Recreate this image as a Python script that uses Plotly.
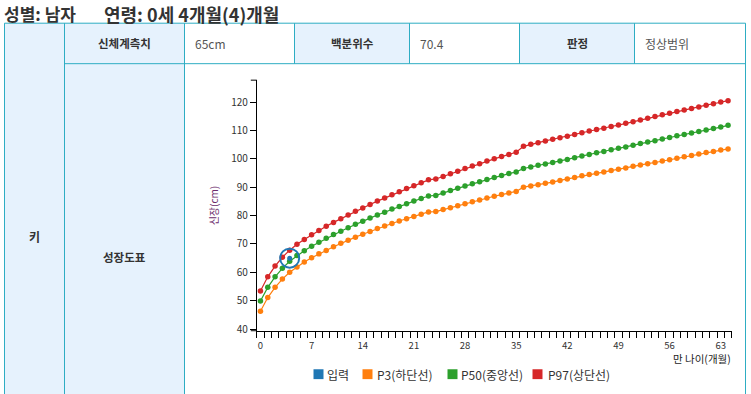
import plotly.graph_objects as go

W, H = 751, 394

# ---------------- data ----------------
months = list(range(65))
p3 = [46.3, 51.1, 54.7, 57.6, 60.0, 61.9, 63.6, 65.1, 66.5, 67.7, 69.0, 70.2, 71.3, 72.4, 73.4, 74.4,
      75.4, 76.3, 77.2, 78.1, 78.9, 79.7, 80.5, 81.3, 81.4, 82.1, 82.8, 83.5, 84.2, 84.9, 85.5, 86.2,
      86.8, 87.4, 88.0, 88.5,
      90.0, 90.4, 90.9, 91.4, 91.8, 92.4, 92.9, 93.4, 94.0, 94.5, 94.9, 95.4, 95.9, 96.3, 96.8, 97.4,
      97.8, 98.3, 98.7, 99.2, 99.7, 100.2, 100.7, 101.2, 101.7, 102.2, 102.6, 103.1, 103.5]
p50 = [49.9, 54.7, 58.4, 61.4, 63.9, 65.9, 67.6, 69.2, 70.6, 72.0, 73.3, 74.5, 75.7, 76.9, 78.0, 79.1,
       80.2, 81.2, 82.3, 83.2, 84.2, 85.1, 86.0, 86.9, 87.1, 88.0, 88.8, 89.6, 90.4, 91.2, 91.9, 92.7,
       93.4, 94.1, 94.8, 95.4,
       96.6, 97.1, 97.7, 98.2, 98.7, 99.2, 99.8, 100.4, 101.0, 101.5, 102.1, 102.6, 103.2, 103.7, 104.2,
       104.8, 105.4, 105.9, 106.4, 107.0, 107.5, 108.1, 108.6, 109.1, 109.6, 110.2, 110.7, 111.2, 111.8]
p97 = [53.4, 58.4, 62.2, 65.3, 67.8, 69.9, 71.6, 73.2, 74.7, 76.2, 77.6, 78.9, 80.2, 81.5, 82.7, 83.9,
       85.1, 86.2, 87.3, 88.4, 89.5, 90.5, 91.6, 92.6, 92.9, 93.8, 94.7, 95.6, 96.6, 97.5, 98.3, 99.2,
       100.0, 100.8, 101.5, 102.3,
       104.4, 105.1, 105.7, 106.3, 106.9, 107.4, 108.0, 108.6, 109.2, 109.8, 110.3, 110.8, 111.4, 111.9,
       112.5, 113.1, 113.7, 114.3, 114.9, 115.5, 116.1, 116.7, 117.2, 117.7, 118.3, 118.9, 119.4, 120.0, 120.5]
input_month = [4]
input_height = [65]
x_tick_vals = list(range(0, 64, 7))
y_tick_vals = list(range(40, 121, 10))

series_names = ["P3(하단선)", "P50(중앙선)", "P97(상단선)"]
series_colors = ["#ff7f0e", "#2ca02c", "#d62728"]
input_name = "입력"
input_color = "#1f77b4"

# ---------------- helpers ----------------
def px(x):
    return x / W

def py(y):
    return 1 - y / H

FONT = "Noto Sans CJK KR, Noto Sans, sans-serif"
BORDER = "#2eadc3"
CELL = "#e6f2fd"

fig = go.Figure()
for name, vals, col in zip(series_names, [p3, p50, p97], series_colors):
    fig.add_trace(go.Scatter(x=months, y=vals, mode="lines+markers", name=name,
                             line=dict(color=col, width=1.2),
                             marker=dict(color=col, size=5.5), showlegend=False,
                             hoverinfo="skip"))
fig.add_trace(go.Scatter(x=input_month, y=input_height, mode="markers", name=input_name,
                         marker=dict(color=input_color, size=5), showlegend=False))
fig.add_trace(go.Scatter(x=input_month, y=input_height, mode="markers", name=input_name,
                         marker=dict(symbol="circle-open", color=input_color, size=19,
                                     line=dict(color=input_color, width=2)),
                         showlegend=False))

# plot-area geometry (pixels)
X0, X1 = 256.8, 731.7
Y0, Y1 = 80.7, 335.0

shapes = []
def rect(x0, y0, x1, y1, fill):
    shapes.append(dict(type="rect", xref="paper", yref="paper", x0=px(x0), x1=px(x1),
                       y0=py(y1), y1=py(y0), fillcolor=fill, line=dict(width=0), layer="below"))

def line(x0, y0, x1, y1, color=BORDER, width=1, layer="below"):
    shapes.append(dict(type="line", xref="paper", yref="paper", x0=px(x0), x1=px(x1),
                       y0=py(y0), y1=py(y1), line=dict(color=color, width=width), layer=layer))

TOP, MID, BOT = 23.5, 64.5, 460
cols = [4.5, 64.5, 184.5, 294.5, 409.5, 519.5, 634.5, 745.5]
rect(cols[0], TOP, cols[1], BOT, CELL)
rect(cols[1], TOP, cols[2], BOT, CELL)
rect(cols[3], TOP, cols[4], MID, CELL)
rect(cols[5], TOP, cols[6], MID, CELL)
line(cols[0], TOP, cols[7], TOP)
line(cols[1], MID, cols[7], MID)
for c in [cols[0], cols[1], cols[2], cols[7]]:
    line(c, TOP, c, BOT)
for c in cols[3:7]:
    line(c, TOP, c, MID)

# d3-like outer ticks
line(X0 - 6, Y0 + 0.5, X0, Y0 + 0.5, color="#000", layer="above")
line(X0 - 6, Y1, X0, Y1, color="#000", layer="above")

# manual legend
leg_y = 379
legend_items = [(input_name, input_color, 313.5, 326),
                (series_names[0], series_colors[0], 362.5, 376),
                (series_names[1], series_colors[1], 447.5, 460),
                (series_names[2], series_colors[2], 532.5, 547)]
for name, col, sx, tx in legend_items:
    rect(sx, leg_y - 5, sx + 10, leg_y + 5, col)

annotations = []
def ann(text, x, y, xanchor="center", size=12, color="#333", angle=0, pad=1, yanchor="middle"):
    annotations.append(dict(text=text, x=px(x), y=py(y), xref="paper", yref="paper",
                            xanchor=xanchor, yanchor=yanchor, showarrow=False, borderpad=pad,
                            textangle=angle, font=dict(family=FONT, size=size, color=color)))

ann("<b>성별: 남자</b>", 3, 0, "left", 17, pad=0, yanchor="top")
ann("<b>연령: 0세 4개월(4)개월</b>", 103, 0, "left", 18, pad=0, yanchor="top")
ann("<b>신체계측치</b>", 124, 44, "center", 11.5)
ann("65cm", 193, 44, "left", 12, "#555")
ann("<b>백분위수</b>", 352, 44, "center", 11.5)
ann("70.4", 418, 44, "left", 12, "#555")
ann("<b>판정</b>", 577, 44, "center", 11.5)
ann("정상범위", 643, 44, "left", 12, "#555")
ann("<b>키</b>", 34, 240, "center", 12)
ann("<b>성장도표</b>", 124, 260, "center", 11.5)
ann("신장(cm)", 213, 208, "center", 10, "#6b2a6b", -90)
ann("만 나이(개월)", 733, 363, "right", 10.5, "#222")
for name, col, sx, tx in legend_items:
    ann(name, tx - 1, leg_y, "left", 12, "#333")

fig.update_layout(
    width=W, height=H, margin=dict(l=0, r=0, t=0, b=0),
    paper_bgcolor="white", plot_bgcolor="rgba(0,0,0,0)",
    font=dict(family=FONT, color="#333"),
    showlegend=False,
    xaxis=dict(domain=[px(X0), px(X1)], range=[-0.5, 64.5], showline=True, linecolor="#000",
               linewidth=1, showgrid=False, zeroline=False, tickmode="array",
               tickvals=x_tick_vals, ticks="outside", ticklen=6, tickcolor="rgba(0,0,0,0)",
               tickfont=dict(family=FONT, size=9.5, color="#333"),
               minor=dict(tickmode="array", tickvals=[m - 0.5 for m in months + [65]],
                          ticks="outside", ticklen=6, tickcolor="#000", tickwidth=1, showgrid=False)),
    yaxis=dict(domain=[py(Y1), py(Y0)], range=[39.4, 127.9], showline=True, linecolor="#000",
               linewidth=1, showgrid=False, zeroline=False, tickmode="array",
               tickvals=y_tick_vals, ticks="outside", ticklen=6, tickcolor="#000", tickwidth=1,
               tickfont=dict(family=FONT, size=10, color="#333")),
    shapes=shapes, annotations=annotations,
)

fig.write_html("out.html", config={"displayModeBar": False},
               post_script="document.body.style.margin='0';document.body.style.padding='0';")
